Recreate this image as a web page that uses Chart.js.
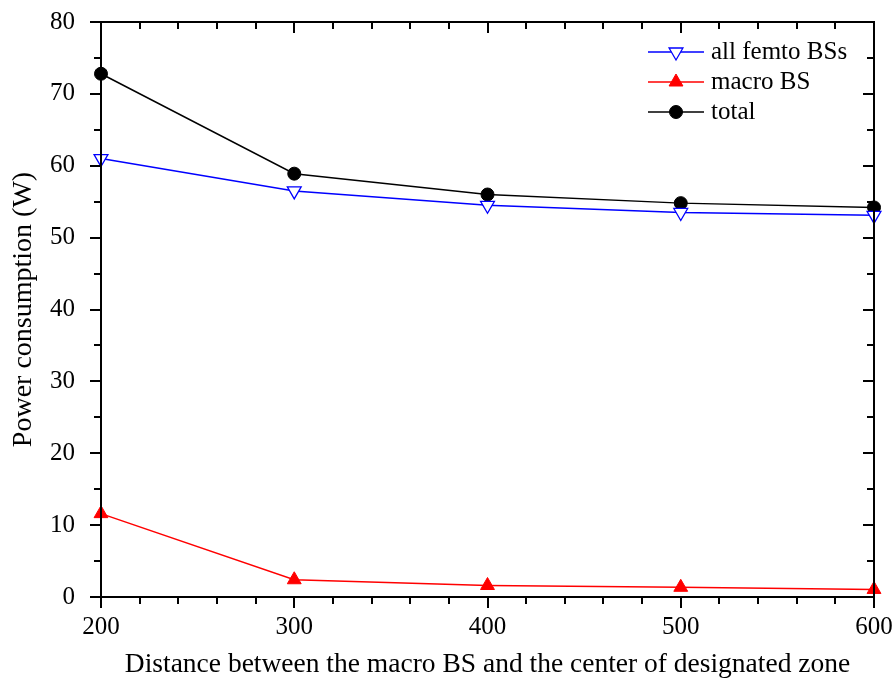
<!DOCTYPE html>
<html>
<head>
<meta charset="utf-8">
<script src="https://cdn.jsdelivr.net/npm/chart.js@4.4.1/dist/chart.umd.min.js"></script>
<style>
  html, body { margin: 0; padding: 0; background: #fff; }
  #wrap { width: 895px; height: 686px; }
</style>
</head>
<body>
<div id="wrap"><canvas id="powerChart" width="895" height="686"></canvas></div>
<script>
// distance between macro BS and zone center
const distancias = [200, 300, 400, 500, 600];

// power consumption (W)
const femtoTotal = [61.0, 56.5, 54.5, 53.5, 53.1];
const macroBS = [11.6, 2.4, 1.6, 1.35, 1.05];
const total = [72.8, 58.9, 56.0, 54.8, 54.2];

const rotulosSerie = ["all femto BSs", "macro BS", "total"];

const fonte = "'Liberation Serif', 'Times New Roman', serif";

const pontos = (ys) => distancias.map((x, i) => ({ x, y: ys[i] }));

// frame + ticks on all four sides (outside on left/bottom, inside on top/right)
const molduraEixos = {
  id: "molduraEixos",
  afterDatasetsDraw(chart) {
    const { ctx, chartArea: a, scales } = chart;
    const sx = scales.x, sy = scales.y;
    ctx.save();
    ctx.strokeStyle = "#000";
    ctx.lineWidth = 2;
    ctx.strokeRect(a.left, a.top, a.right - a.left, a.bottom - a.top);

    ctx.beginPath();
    for (let v = 200; v <= 600; v += 20) {
      const px = Math.round(sx.getPixelForValue(v));
      const len = v % 100 === 0 ? 11 : 7;
      ctx.moveTo(px, a.bottom);
      ctx.lineTo(px, a.bottom + len);
      ctx.moveTo(px, a.top);
      ctx.lineTo(px, a.top + len);
    }
    for (let v = 0; v <= 80; v += 5) {
      const py = Math.round(sy.getPixelForValue(v));
      const len = v % 10 === 0 ? 11 : 7;
      ctx.moveTo(a.left, py);
      ctx.lineTo(a.left - len, py);
      ctx.moveTo(a.right, py);
      ctx.lineTo(a.right - len, py);
    }
    ctx.stroke();
    ctx.restore();
  },
  afterDraw(chart) {
    // legend: short line with the marker in the middle
    const { ctx } = chart;
    const x0 = 648, x1 = 704, xt = 711;
    const linhas = [52, 82, 112];
    ctx.save();
    chart.data.datasets.forEach((ds, i) => {
      const y = linhas[i];
      ctx.strokeStyle = ds.borderColor;
      ctx.lineWidth = 1.5;
      ctx.beginPath();
      ctx.moveTo(x0, y);
      ctx.lineTo(x1, y);
      ctx.stroke();
      ctx.fillStyle = ds.pointBackgroundColor;
      ctx.strokeStyle = ds.pointBorderColor;
      ctx.lineWidth = ds.pointBorderWidth;
      Chart.helpers.drawPoint(ctx, {
        pointStyle: ds.pointStyle,
        radius: ds.pointRadius,
        rotation: ds.pointRotation || 0,
        borderWidth: ds.pointBorderWidth
      }, (x0 + x1) / 2, y);
      ctx.fillStyle = "#000";
      ctx.font = "25px " + fonte;
      ctx.textBaseline = "middle";
      ctx.textAlign = "left";
      ctx.fillText(rotulosSerie[i], xt, y);
    });
    ctx.restore();
  }
};

const ctx = document.getElementById("powerChart").getContext("2d");

new Chart(ctx, {
  type: "line",
  data: {
    datasets: [
      {
        label: rotulosSerie[0],
        data: pontos(femtoTotal),
        borderColor: "#0000ff",
        borderWidth: 1.5,
        pointStyle: "triangle",
        pointRotation: 180,
        pointRadius: 8,
        pointBackgroundColor: "#ffffff",
        pointBorderColor: "#0000ff",
        pointBorderWidth: 1.3,
        tension: 0,
        clip: false
      },
      {
        label: rotulosSerie[1],
        data: pontos(macroBS),
        borderColor: "#ff0000",
        borderWidth: 1.5,
        pointStyle: "triangle",
        pointRadius: 8,
        pointBackgroundColor: "#ff0000",
        pointBorderColor: "#ff0000",
        pointBorderWidth: 1,
        tension: 0,
        clip: false
      },
      {
        label: rotulosSerie[2],
        data: pontos(total),
        borderColor: "#000000",
        borderWidth: 1.5,
        pointStyle: "circle",
        pointRadius: 6.5,
        pointBackgroundColor: "#000000",
        pointBorderColor: "#000000",
        pointBorderWidth: 1,
        tension: 0,
        clip: false
      }
    ]
  },
  options: {
    responsive: false,
    animation: false,
    layout: { padding: { left: 0, top: 22, right: 21, bottom: 0 } },
    plugins: {
      legend: { display: false },
      tooltip: { enabled: false }
    },
    scales: {
      x: {
        type: "linear",
        min: 200,
        max: 600,
        grid: { display: false },
        border: { display: false },
        ticks: {
          stepSize: 100,
          padding: 7,
          color: "#000",
          font: { family: fonte, size: 25 }
        },
        title: {
          display: true,
          text: "Distance between the macro BS and the center of designated zone",
          color: "#000",
          font: { family: fonte, size: 27.5 },
          padding: { top: 0, bottom: 5 }
        },
        afterFit(scale) {
          scale.height = 89;
          scale.paddingLeft = 0;
          scale.paddingRight = 0;
        }
      },
      y: {
        min: 0,
        max: 80,
        grid: { display: false },
        border: { display: false },
        ticks: {
          stepSize: 10,
          padding: 18,
          color: "#000",
          font: { family: fonte, size: 25 }
        },
        title: {
          display: true,
          text: "Power consumption (W)",
          color: "#000",
          font: { family: fonte, size: 28 },
          padding: { top: 7, bottom: 0 }
        },
        afterFit(scale) {
          scale.width = 101;
          scale.paddingTop = 0;
          scale.paddingBottom = 0;
        }
      }
    }
  },
  plugins: [molduraEixos]
});
</script>
</body>
</html>
